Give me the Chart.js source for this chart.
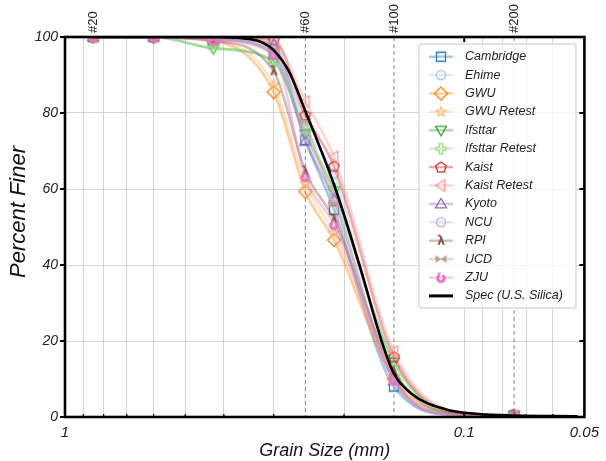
<!DOCTYPE html>
<html>
<head>
<meta charset="utf-8">
<script src="https://cdn.jsdelivr.net/npm/chart.js@4.4.1/dist/chart.umd.min.js"></script>
<style>
  html, body { margin: 0; padding: 0; background: #fff; }
</style>
</head>
<body>
<canvas id="chart" width="606" height="461"></canvas>
<script>
// sieve openings (mm) where each lab reported percent finer
const sieveSizes = [0.85, 0.6, 0.425, 0.3, 0.25, 0.212, 0.15, 0.106, 0.075];
const noMarkerIndex = 7; // #140 reading, drawn without a marker

const seriesNames = ['Cambridge', 'Ehime', 'GWU', 'GWU Retest', 'Ifsttar', 'Ifsttar Retest',
  'Kaist', 'Kaist Retest', 'Kyoto', 'NCU', 'RPI', 'UCD', 'ZJU'];

const cambridge     = [100, 100, 99.5, 95.5, 72.9, 54.5,  8.0, 0.6, 0.3];
const ehime         = [100, 100, 99.6, 97.0, 76.0, 64.0, 10.5, 0.8, 0.3];
const gwu           = [100, 100, 99.0, 85.5, 59.3, 46.6, 10.0, 0.8, 0.3];
const gwuRetest     = [100, 100, 99.0, 87.4, 61.5, 48.5, 10.5, 0.8, 0.3];
const ifsttar       = [100, 100, 97.0, 93.5, 74.5, 59.5, 14.5, 1.0, 0.5];
const ifsttarRetest = [100, 100, 97.2, 93.4, 75.5, 60.0, 13.0, 1.0, 0.4];
const kaist         = [100, 100, 99.8, 99.2, 79.5, 66.0, 15.9, 1.2, 0.4];
const kaistRetest   = [100, 100, 99.8, 98.5, 83.0, 68.5, 17.2, 1.5, 0.4];
const kyoto         = [100, 100, 99.5, 98.0, 72.5, 57.3,  9.5, 0.5, 0.3];
const ncu           = [100, 100, 99.3, 96.0, 74.0, 58.0,  9.5, 0.5, 0.3];
const rpi           = [100, 100, 99.0, 91.0, 64.6, 52.0, 11.9, 0.8, 0.4];
const ucd           = [100, 100, 99.3, 96.5, 77.7, 56.0, 10.2, 0.7, 0.3];
const zju           = [100, 100, 99.0, 95.3, 63.2, 50.6,  9.7, 0.6, 0.3];
const seriesValues = [cambridge, ehime, gwu, gwuRetest, ifsttar, ifsttarRetest,
  kaist, kaistRetest, kyoto, ncu, rpi, ucd, zju];

// manufacturer specification curve
const specSizes = [0.85, 0.42, 0.355, 0.325, 0.3, 0.275, 0.25, 0.21, 0.183, 0.161, 0.151, 0.135, 0.111, 0.092, 0.076, 0.052];
const specFiner = [100, 100, 99.6, 98.8, 96.5, 91, 80.5, 60, 40, 20, 12, 6, 2, 0.8, 0.4, 0.2];

// axes
const xGridValues = [1, 0.9, 0.8, 0.7, 0.6, 0.5, 0.4, 0.3, 0.2, 0.1, 0.09, 0.08, 0.07, 0.06, 0.05];
const xTickValues = [1, 0.1, 0.05];
const xTickLabels = ['1', '0.1', '0.05'];
const yTickValues = [0, 20, 40, 60, 80, 100];
const sieveLineSizes = [0.85, 0.25, 0.15, 0.075];
const sieveLineLabels = ['#20', '#60', '#100', '#200'];
const sieveLineDashed = [false, true, true, true];

const seriesColors = ['#1f77b4', '#aec7e8', '#ff7f0e', '#ffbb78', '#2ca02c', '#98df8a',
  '#d62728', '#ff9896', '#9467bd', '#c5b0d5', '#8c564b', '#c49c94', '#e377c2'];
const seriesMarkers = ['square', 'circle', 'diamond', 'star', 'triDown', 'plus',
  'pentagon', 'triLeft', 'triUp', 'circle', 'lambda', 'bowtie', 'swirl'];

const FONT = "'Liberation Sans', Arial, sans-serif";

function withAlpha(hex, a) {
    const n = parseInt(hex.slice(1), 16);
    return `rgba(${(n >> 16) & 255}, ${(n >> 8) & 255}, ${n & 255}, ${a})`;
}

function polygon(g, pts) {
    g.moveTo(pts[0][0], pts[0][1]);
    for (let i = 1; i < pts.length; i++) g.lineTo(pts[i][0], pts[i][1]);
    g.closePath();
}

// small canvas with one marker glyph, used by chart points and legend
function makeMarker(shape, color) {
    const c = document.createElement('canvas');
    c.width = 18; c.height = 18;
    const g = c.getContext('2d');
    g.translate(9, 9);
    g.strokeStyle = color;
    g.fillStyle = color;
    g.lineWidth = 1.3;
    g.beginPath();
    if (shape === 'square') {
        g.rect(-4.5, -4.5, 9, 9); g.stroke();
    } else if (shape === 'circle') {
        g.arc(0, 0, 4.6, 0, Math.PI * 2); g.stroke();
    } else if (shape === 'diamond') {
        polygon(g, [[0, -6.5], [6.5, 0], [0, 6.5], [-6.5, 0]]); g.stroke();
    } else if (shape === 'star') {
        const pts = [];
        for (let k = 0; k < 10; k++) {
            const r = k % 2 ? 2.2 : 5;
            const a = -Math.PI / 2 + k * Math.PI / 5;
            pts.push([r * Math.cos(a), r * Math.sin(a)]);
        }
        polygon(g, pts); g.stroke();
    } else if (shape === 'triDown') {
        polygon(g, [[0, 5.5], [-5.5, -3.8], [5.5, -3.8]]); g.stroke();
    } else if (shape === 'triUp') {
        polygon(g, [[0, -5.5], [-5.5, 3.8], [5.5, 3.8]]); g.stroke();
    } else if (shape === 'triLeft') {
        polygon(g, [[-5.5, 0], [3.8, -5.5], [3.8, 5.5]]); g.stroke();
    } else if (shape === 'plus') {
        const a = 1.7, b = 5;
        polygon(g, [[-a, -b], [a, -b], [a, -a], [b, -a], [b, a], [a, a], [a, b], [-a, b], [-a, a], [-b, a], [-b, -a], [-a, -a]]);
        g.stroke();
    } else if (shape === 'pentagon') {
        const pts = [];
        for (let k = 0; k < 5; k++) {
            const a = -Math.PI / 2 + k * 2 * Math.PI / 5;
            pts.push([5.5 * Math.cos(a), 5.5 * Math.sin(a) + 0.5]);
        }
        polygon(g, pts); g.stroke();
    } else if (shape === 'lambda') {
        g.font = `bold 13px 'DejaVu Sans', sans-serif`;
        g.textAlign = 'center';
        g.textBaseline = 'middle';
        g.fillText('λ', 0, 0.5);
    } else if (shape === 'bowtie') {
        polygon(g, [[-5.5, -4], [0, 0], [-5.5, 4]]);
        polygon(g, [[5.5, -4], [0, 0], [5.5, 4]]);
        g.fill();
    } else if (shape === 'swirl') {
        g.lineWidth = 3;
        g.arc(0, 0.8, 3.3, -0.35 * Math.PI, 1.35 * Math.PI);
        g.stroke();
        g.beginPath();
        polygon(g, [[-3.5, -5], [0.5, -4.5], [-2.5, -1.5]]);
        g.fill();
    }
    return c;
}

const markerImages = seriesMarkers.map((m, i) => makeMarker(m, seriesColors[i]));

const datasets = seriesNames.map((name, i) => ({
    label: name,
    data: sieveSizes.map((s, j) => ({ x: s, y: seriesValues[i][j] })),
    borderColor: withAlpha(seriesColors[i], 0.4),
    borderWidth: 2.6,
    cubicInterpolationMode: 'monotone',
    pointStyle: markerImages[i],
    pointRadius: sieveSizes.map((s, j) => (j === noMarkerIndex ? 0 : 5)),
    order: seriesNames.length - i + 1,
    fill: false
}));

datasets.push({
    label: 'Spec (U.S. Silica)',
    data: specSizes.map((s, j) => ({ x: s, y: specFiner[j] })),
    borderColor: '#000',
    borderWidth: 2.6,
    cubicInterpolationMode: 'monotone',
    pointRadius: 0,
    order: 0,
    fill: false
});

// vertical sieve lines and their labels above the plot
const sievePlugin = {
    id: 'sieves',
    beforeDatasetsDraw(chart) {
        const { ctx, chartArea } = chart;
        const xs = chart.scales.x;
        ctx.save();
        sieveLineSizes.forEach((s, i) => {
            const px = xs.getPixelForValue(s);
            if (sieveLineDashed[i]) {
                ctx.beginPath();
                ctx.setLineDash([4, 3]);
                ctx.strokeStyle = '#888';
                ctx.lineWidth = 1;
                ctx.moveTo(px, chartArea.top);
                ctx.lineTo(px, chartArea.bottom);
                ctx.stroke();
            }
        });
        ctx.restore();
    },
    afterDraw(chart) {
        const { ctx, chartArea } = chart;
        const xs = chart.scales.x;
        ctx.save();
        ctx.fillStyle = '#222';
        ctx.font = `13px ${FONT}`;
        ctx.textAlign = 'left';
        ctx.textBaseline = 'middle';
        sieveLineSizes.forEach((s, i) => {
            const px = xs.getPixelForValue(s);
            ctx.save();
            ctx.translate(px, chartArea.top - 4);
            ctx.rotate(-Math.PI / 2);
            ctx.fillText(sieveLineLabels[i], 0, 0);
            ctx.restore();
        });
        // y axis title
        ctx.save();
        ctx.font = `italic 22px ${FONT}`;
        ctx.fillStyle = '#111';
        ctx.textAlign = 'center';
        ctx.translate(19, 212);
        ctx.rotate(-Math.PI / 2);
        ctx.fillText('Percent Finer', 0, 0);
        ctx.restore();
        ctx.restore();
    }
};

// heavy frame and tick marks
const framePlugin = {
    id: 'frame',
    afterDraw(chart) {
        const { ctx, chartArea: a } = chart;
        const xs = chart.scales.x, ys = chart.scales.y;
        ctx.save();
        ctx.strokeStyle = '#000';
        ctx.lineWidth = 2;
        yTickValues.forEach(v => {
            const py = ys.getPixelForValue(v);
            ctx.beginPath();
            ctx.moveTo(a.left - 5, py); ctx.lineTo(a.left, py);
            ctx.moveTo(a.right - 5, py); ctx.lineTo(a.right, py);
            ctx.stroke();
        });
        [0.1].forEach(v => {
            const px = xs.getPixelForValue(v);
            ctx.beginPath();
            ctx.moveTo(px, a.bottom); ctx.lineTo(px, a.bottom - 5);
            ctx.moveTo(px, a.top); ctx.lineTo(px, a.top + 5);
            ctx.stroke();
        });
        ctx.lineWidth = 1.2;
        xGridValues.forEach(v => {
            if (xTickValues.includes(v)) return;
            const px = xs.getPixelForValue(v);
            ctx.beginPath();
            ctx.moveTo(px, a.bottom); ctx.lineTo(px, a.bottom - 3);
            ctx.stroke();
        });
        ctx.lineWidth = 2.6;
        ctx.strokeRect(a.left, a.top, a.right - a.left, a.bottom - a.top);
        ctx.restore();
    }
};

// matplotlib-style legend with line + marker samples
const legendPlugin = {
    id: 'labLegend',
    afterDraw(chart) {
        const { ctx } = chart;
        const box = { x: 419, y: 44, w: 157, h: 264 };
        ctx.save();
        ctx.beginPath();
        ctx.roundRect(box.x, box.y, box.w, box.h, 3);
        ctx.fillStyle = 'rgba(255,255,255,0.82)';
        ctx.fill();
        ctx.strokeStyle = '#dcdcdc';
        ctx.lineWidth = 1.6;
        ctx.stroke();
        ctx.font = `italic 12.5px ${FONT}`;
        ctx.textBaseline = 'middle';
        ctx.textAlign = 'left';
        chart.data.datasets.forEach((ds, i) => {
            const y = 56.7 + i * 18.4;
            ctx.beginPath();
            ctx.strokeStyle = ds.borderColor;
            ctx.lineWidth = ds.pointStyle ? 2.4 : 3;
            ctx.moveTo(429, y); ctx.lineTo(453, y);
            ctx.stroke();
            if (ds.pointStyle) ctx.drawImage(ds.pointStyle, 441 - 9, y - 9);
            ctx.fillStyle = '#222';
            ctx.fillText(ds.label, 465, y);
        });
        ctx.restore();
    }
};

new Chart(document.getElementById('chart'), {
    type: 'line',
    data: { datasets },
    options: {
        responsive: false,
        animation: false,
        events: [],
        layout: { padding: { top: 37, right: 20, left: 0, bottom: 0 } },
        plugins: { legend: { display: false }, tooltip: { enabled: false } },
        scales: {
            x: {
                type: 'logarithmic',
                reverse: true,
                min: 0.05,
                max: 1,
                afterBuildTicks: s => { s.ticks = xGridValues.map(v => ({ value: v })); },
                afterFit: s => { s.height = 44; },
                ticks: {
                    autoSkip: false,
                    maxRotation: 0,
                    padding: 7,
                    color: '#222',
                    font: { family: FONT, size: 15, style: 'italic' },
                    callback: v => {
                        const k = xTickValues.indexOf(v);
                        return k >= 0 ? xTickLabels[k] : '';
                    }
                },
                grid: { color: '#d4d4d4', lineWidth: 1, drawTicks: false },
                border: { display: false },
                title: {
                    display: true,
                    text: 'Grain Size (mm)',
                    color: '#111',
                    font: { family: FONT, size: 18, style: 'italic' },
                    padding: { top: 0, bottom: -1 }
                }
            },
            y: {
                min: 0,
                max: 100,
                afterBuildTicks: s => { s.ticks = yTickValues.map(v => ({ value: v })); },
                afterFit: s => { s.width = 65; },
                ticks: {
                    padding: 7,
                    color: '#222',
                    font: { family: FONT, size: 14, style: 'italic' }
                },
                grid: { color: '#d4d4d4', lineWidth: 1, drawTicks: false },
                border: { display: false },
                title: { display: false }
            }
        }
    },
    plugins: [sievePlugin, framePlugin, legendPlugin]
});
</script>
</body>
</html>
